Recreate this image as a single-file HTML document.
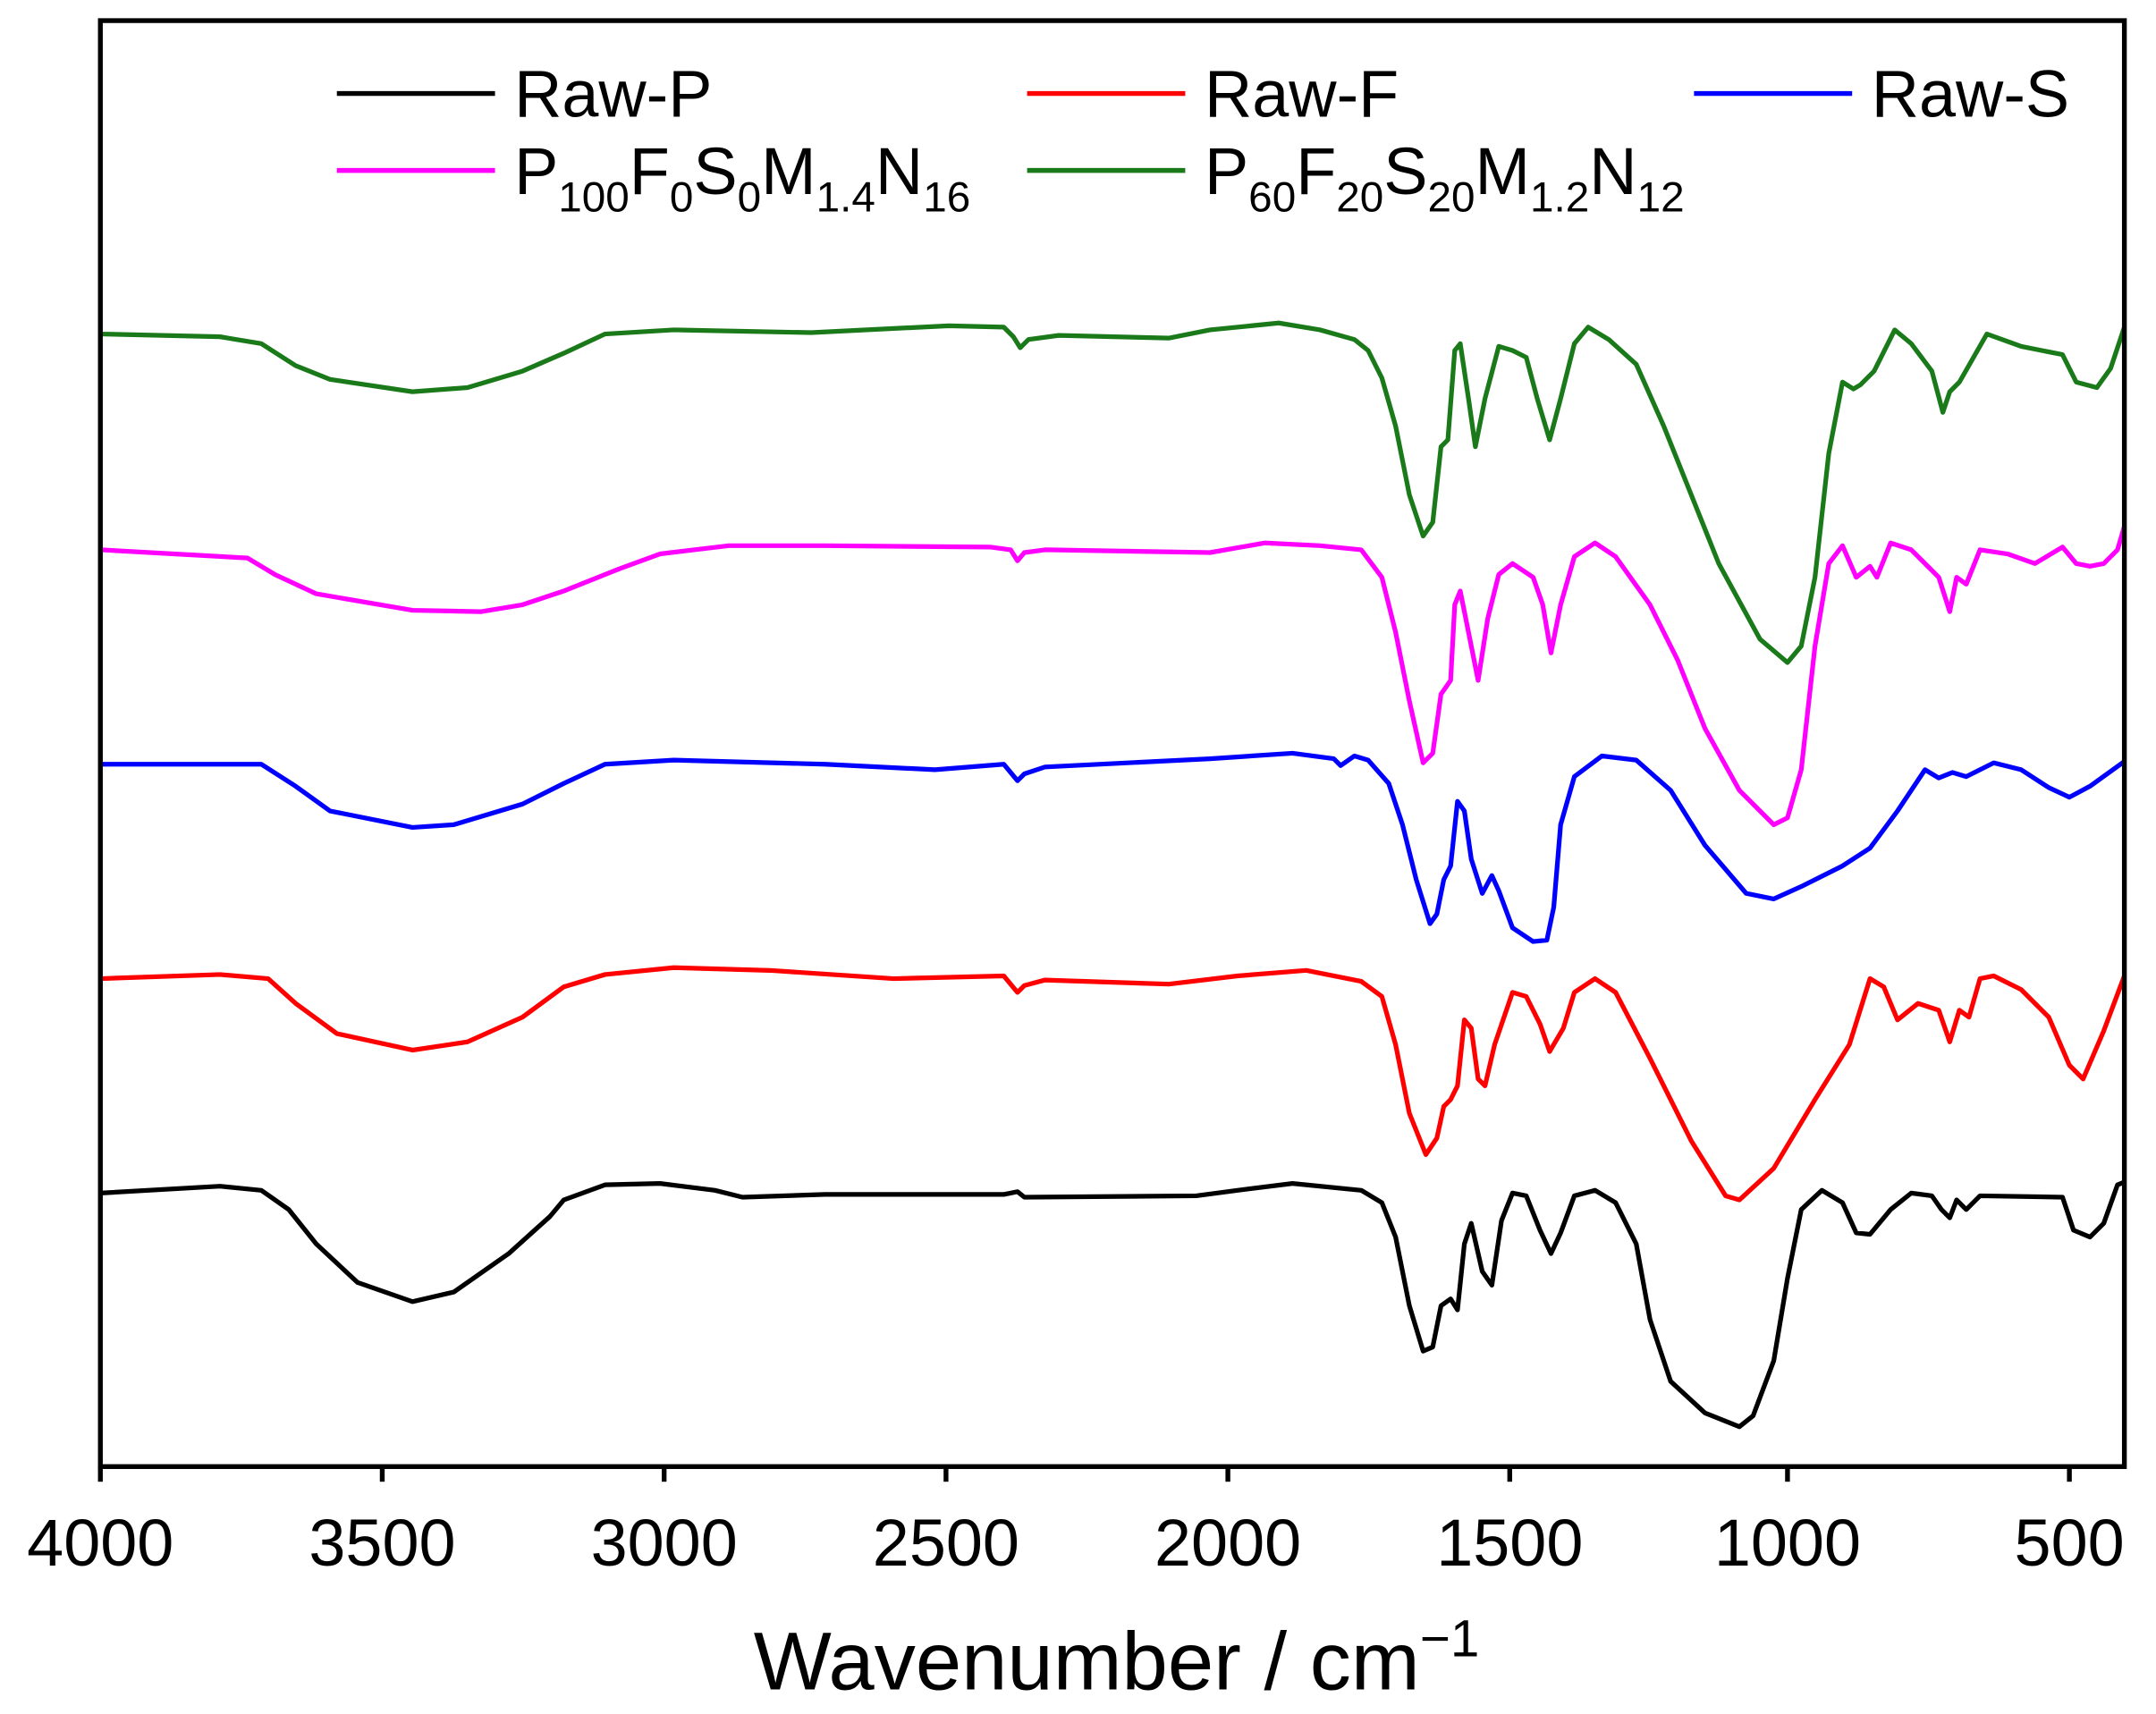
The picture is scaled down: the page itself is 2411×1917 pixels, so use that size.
<!DOCTYPE html>
<html><head><meta charset="utf-8"><style>html,body{margin:0;padding:0;background:#fff}svg{display:block}</style></head>
<body>
<svg width="2411" height="1917" viewBox="0 0 1568 1247" preserveAspectRatio="none" xmlns="http://www.w3.org/2000/svg" font-family="Liberation Sans, Arial, sans-serif">
<rect x="0" y="0" width="1568" height="1247" fill="#fff"/>
<g fill="none" stroke-width="3.4" stroke-linejoin="round">
<polyline stroke="#000" points="73,868 160,863 190,866 210,880 230,905 260,933 300,947 330,940 370,912 400,885 410,873 440,862 480,861 520,866 540,871 600,869 730,869 740,867 745,871 870,870 900,866 940,861 990,866 1005,875 1015,900 1025,950 1035,983 1042,980 1048,950 1055,945 1060,953 1065,905 1070,890 1078,925 1085,935 1092,888 1100,868 1110,870 1120,895 1128,912 1135,897 1145,870 1160,866 1175,875 1190,905 1200,960 1215,1005 1240,1028 1265,1038 1275,1030 1290,990 1300,930 1310,880 1325,866 1340,875 1350,897 1360,898 1375,880 1390,868 1405,870 1412,880 1418,886 1423,873 1430,880 1440,870 1500,871 1508,895 1520,900 1530,890 1540,862 1545,860"/>
<polyline stroke="#f00" points="73,712 160,709 195,712 215,730 245,752 300,764 340,758 380,740 410,718 440,709 490,704 560,706 650,712 730,710 740,722 745,717 760,713 850,716 900,710 950,706 990,714 1005,725 1015,760 1025,810 1037,840 1045,828 1050,805 1055,800 1060,790 1065,742 1070,748 1075,785 1080,790 1087,760 1100,722 1110,725 1120,745 1127,765 1137,748 1145,722 1160,712 1175,722 1200,770 1230,830 1255,870 1265,873 1290,850 1320,800 1345,760 1360,712 1370,718 1380,742 1395,730 1410,735 1418,758 1425,735 1432,740 1440,712 1450,710 1470,720 1490,740 1505,775 1515,785 1530,750 1545,710"/>
<polyline stroke="#00f" points="73,556 190,556 215,572 240,590 300,602 330,600 380,585 410,570 440,556 490,553 600,556 680,560 730,556 740,568 745,563 760,558 880,552 940,548 970,552 975,557 985,550 995,553 1010,570 1020,600 1030,640 1040,672 1045,665 1050,640 1055,630 1060,583 1065,590 1070,625 1078,650 1085,637 1090,648 1100,675 1115,685 1125,684 1130,660 1135,600 1145,565 1165,550 1190,553 1215,575 1240,615 1270,650 1290,654 1310,645 1340,630 1360,617 1380,590 1400,560 1410,566 1420,562 1430,565 1450,555 1470,560 1490,573 1505,580 1520,572 1545,554"/>
<polyline stroke="#f0f" points="73,400 180,406 200,418 230,432 300,444 350,445 380,440 410,430 450,414 480,403 530,397 600,397 720,398 735,400 740,408 745,402 760,400 880,402 920,395 960,397 990,400 1005,420 1015,460 1025,510 1035,555 1042,548 1048,505 1055,495 1058,440 1062,430 1068,460 1075,495 1082,450 1090,418 1100,410 1115,420 1122,440 1128,475 1135,440 1145,405 1160,395 1175,405 1200,440 1220,480 1240,530 1265,575 1290,600 1300,595 1310,560 1320,470 1330,410 1340,397 1350,420 1360,412 1365,420 1375,395 1390,400 1410,420 1418,445 1423,420 1430,425 1440,400 1460,403 1480,410 1500,398 1510,410 1520,412 1530,410 1540,400 1545,383"/>
<polyline stroke="#1a7a1a" points="73,243 160,245 190,250 215,266 240,276 300,285 340,282 380,270 410,257 440,243 490,240 590,242 690,237 730,238 737,245 742,253 748,247 770,244 850,246 880,240 930,235 960,240 985,247 995,255 1005,275 1015,310 1025,360 1035,390 1042,380 1048,325 1053,320 1058,255 1062,250 1068,290 1073,325 1080,290 1090,252 1100,255 1110,260 1118,290 1127,320 1135,290 1145,250 1155,238 1170,247 1190,265 1210,310 1230,360 1250,410 1280,465 1300,482 1310,470 1320,420 1330,330 1340,278 1348,283 1353,280 1363,270 1378,240 1390,250 1405,270 1413,300 1418,285 1425,278 1445,243 1470,252 1500,258 1510,278 1525,282 1535,268 1545,238"/>
</g>
<rect x="73" y="15" width="1472" height="1052" fill="none" stroke="#000" stroke-width="3.5"/>
<g stroke="#000" stroke-width="3.5">
<line x1="73" y1="1067" x2="73" y2="1078"/><line x1="278" y1="1067" x2="278" y2="1078"/><line x1="483" y1="1067" x2="483" y2="1078"/><line x1="688" y1="1067" x2="688" y2="1078"/><line x1="893" y1="1067" x2="893" y2="1078"/><line x1="1098" y1="1067" x2="1098" y2="1078"/><line x1="1300" y1="1067" x2="1300" y2="1078"/><line x1="1505" y1="1067" x2="1505" y2="1078"/>
</g>
<g font-size="48" text-anchor="middle" fill="#000">
<text x="73" y="1139">4000</text><text x="278" y="1139">3500</text><text x="483" y="1139">3000</text><text x="688" y="1139">2500</text><text x="893" y="1139">2000</text><text x="1098" y="1139">1500</text><text x="1300" y="1139">1000</text><text x="1505" y="1139">500</text>
</g>
<text x="812" y="1229" font-size="60" text-anchor="middle">Wavenumber / cm<tspan dy="-24" font-size="38">−1</tspan></text>
<g stroke-width="3.5">
<line x1="245" y1="68" x2="360" y2="68" stroke="#000"/>
<line x1="747" y1="68" x2="862" y2="68" stroke="#f00"/>
<line x1="1232" y1="68" x2="1347" y2="68" stroke="#00f"/>
<line x1="245" y1="124" x2="360" y2="124" stroke="#f0f"/>
<line x1="747" y1="124" x2="862" y2="124" stroke="#1a7a1a"/>
</g>
<g font-size="48" fill="#000">
<text x="374" y="85">Raw-P</text>
<text x="876" y="85">Raw-F</text>
<text x="1361" y="85">Raw-S</text>
<text x="374" y="141">P<tspan font-size="31" dy="13">100</tspan><tspan dy="-13">F</tspan><tspan font-size="31" dy="13">0</tspan><tspan dy="-13">S</tspan><tspan font-size="31" dy="13">0</tspan><tspan dy="-13">M</tspan><tspan font-size="31" dy="13">1.4</tspan><tspan dy="-13">N</tspan><tspan font-size="31" dy="13">16</tspan></text>
<text x="876" y="141">P<tspan font-size="31" dy="13">60</tspan><tspan dy="-13">F</tspan><tspan font-size="31" dy="13">20</tspan><tspan dy="-13">S</tspan><tspan font-size="31" dy="13">20</tspan><tspan dy="-13">M</tspan><tspan font-size="31" dy="13">1.2</tspan><tspan dy="-13">N</tspan><tspan font-size="31" dy="13">12</tspan></text>
</g>
</svg>
</body></html>
